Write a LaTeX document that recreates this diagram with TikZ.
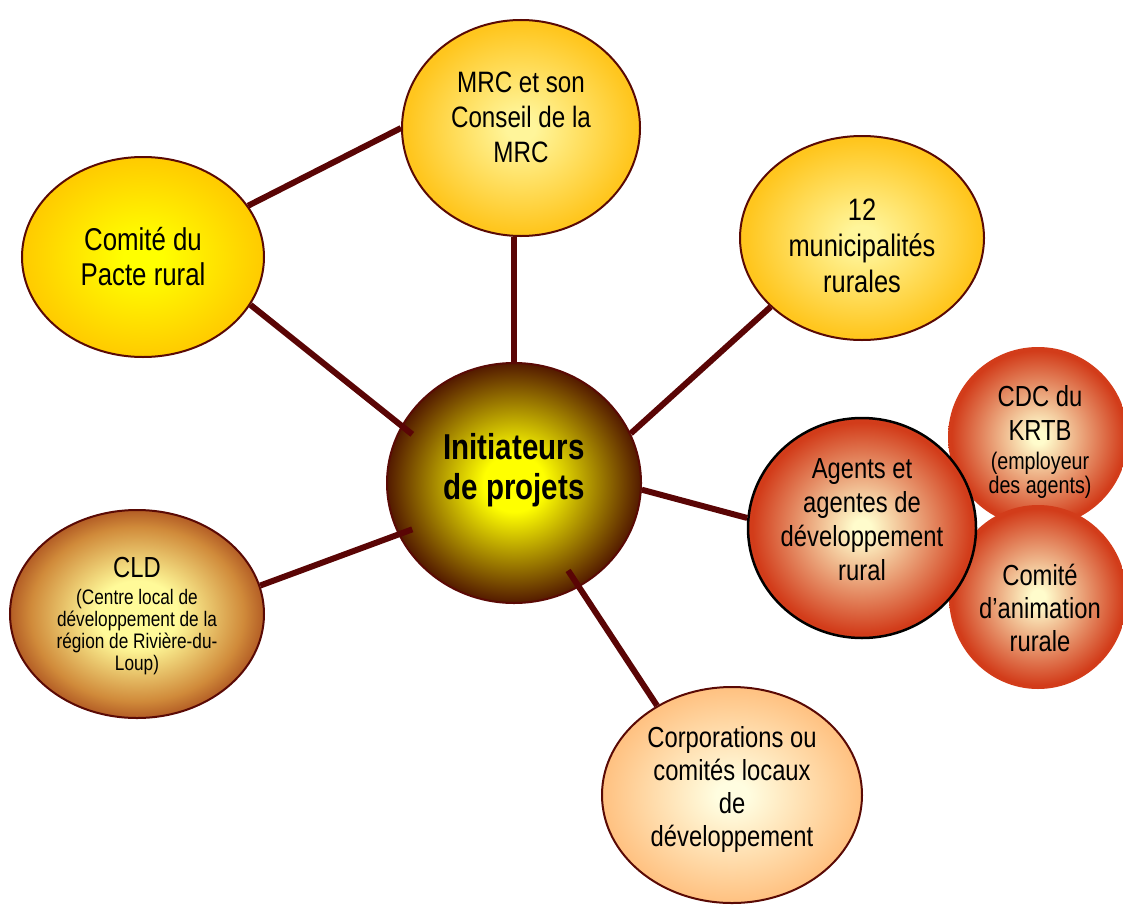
\documentclass[tikz,border=0pt]{standalone}
\usepackage{fontspec}
\setmainfont{Liberation Sans}[FakeStretch=0.82]
\usetikzlibrary{shapes.geometric}
\definecolor{conncol}{HTML}{5A0505}
\definecolor{rimcol}{HTML}{5A0A05}
\definecolor{pacteIn}{HTML}{FFFF00}\definecolor{pacteOut}{HTML}{FFC800}
\definecolor{mrcIn}{HTML}{FFF59A}\definecolor{mrcOut}{HTML}{FFC61E}
\definecolor{initIn}{HTML}{FFFF00}\definecolor{initOut}{HTML}{4A0E00}
\definecolor{redIn}{HTML}{FFFCCC}\definecolor{redOut}{HTML}{D23C1A}
\definecolor{cldIn}{HTML}{FFFA99}\definecolor{cldMid}{HTML}{D08A3A}\definecolor{cldOut}{HTML}{963010}
\definecolor{corpIn}{HTML}{FFFDE0}\definecolor{corpOut}{HTML}{FFBE7C}
\newcommand{\mkshade}[5]{\pgfdeclareradialshading{#1}{\pgfpoint{0bp}{0bp}}{color(0bp)=(#2); color(#4)=(#2); color(#5)=(#3); color(50bp)=(#3)}}
\mkshade{shPacte}{pacteIn}{pacteOut}{4bp}{26bp}
\mkshade{shMrc}{mrcIn}{mrcOut}{3bp}{24bp}
\mkshade{shInit}{initIn}{initOut}{6bp}{26bp}
\mkshade{shRed}{redIn}{redOut}{2bp}{24bp}
\pgfdeclareradialshading{shCld}{\pgfpoint{0bp}{0bp}}{color(0bp)=(cldIn); color(8bp)=(cldIn); color(21bp)=(cldMid); color(29bp)=(cldOut); color(50bp)=(cldOut)}
\mkshade{shCorp}{corpIn}{corpOut}{3bp}{26bp}
\begin{document}
\begin{tikzpicture}[x=1pt,y=-1pt,
  blob/.style={ellipse, inner sep=0pt, shade, line width=2pt, draw=rimcol},
  txt/.style={align=center, inner sep=0pt, font=\fontsize{30}{34.5}\selectfont},
  stxt/.style={align=center, inner sep=0pt, font=\fontsize{21}{22}\selectfont},
  conn/.style={draw=conncol, line width=6pt}]
\useasboundingbox (0,0) rectangle (1123,907);
% ellipses
\node[blob, shading=shPacte, minimum width=242pt, minimum height=200pt] (pacte) at (143,257) {};
\node[blob, shading=shMrc, minimum width=238pt, minimum height=216pt] (mrc) at (521,128) {};
\node[blob, shading=shMrc, minimum width=244pt, minimum height=204pt] (munic) at (862,238) {};
\node[blob, shading=shInit, minimum width=254pt, minimum height=240pt] (init) at (514,483) {};
\node[blob, shading=shRed, draw=none, minimum width=180pt, minimum height=180pt] (cdc) at (1038,437) {};
\node[blob, shading=shRed, draw=none, minimum width=178pt, minimum height=184pt] (anim) at (1038,597) {};
\node[blob, shading=shRed, draw=black, line width=2.5pt, minimum width=228pt, minimum height=220pt] (agents) at (862,528) {};
\node[blob, shading=shCld, minimum width=254pt, minimum height=208pt] (cld) at (137,614) {};
\node[blob, shading=shCorp, minimum width=260pt, minimum height=216pt] (corp) at (732,795) {};
% texts
\node[txt, font=\fontsize{31.5}{35}\selectfont] (pactet) at (143,257) {Comité du\\Pacte rural};
\node[txt, font=\fontsize{29.5}{35}\selectfont] (mrct) at (521,117) {MRC et son\\Conseil de la\\MRC};
\node[txt, font=\fontsize{31}{36}\selectfont] (munict) at (862,246) {12\\municipalités\\rurales};
\node[txt, font=\fontsize{36}{40}\selectfont\bfseries] (initt) at (514,470) {Initiateurs\\de projets};
\node[txt, font=\fontsize{29}{34}\selectfont] (agentst) at (862,520) {Agents et\\agentes de\\développement\\rural};
\node[txt, font=\fontsize{29}{34}\selectfont] (cdch) at (1040,413) {CDC du\\KRTB};
\node[stxt, font=\fontsize{24}{24}\selectfont] (cdct) at (1040,475) {(employeur\\des agents)};
\node[txt, font=\fontsize{29}{33}\selectfont] (animt) at (1040,608) {Comité\\d’animation\\rurale};
\node[txt, font=\fontsize{29}{33}\selectfont] (cldh) at (137,568) {CLD};
\node[stxt] (cldt) at (137,632) {(Centre local de\\développement de la\\région de Rivière-du-\\Loup)};
\node[txt, font=\fontsize{29}{33}\selectfont] (corpt) at (732,789) {Corporations ou\\comités locaux\\de\\développement};
% connectors
\draw[conn] (pacte.26) -- (mrc.180);
\draw[conn, shorten >=-14pt] (pacte.-24) -- (init.153);
\draw[conn] (init.north) -- (init.north |- mrc.south);
\draw[conn] (munic.217) -- (init.23);
\draw[conn] (init.-3) -- (agents.175);
\draw[conn, shorten >=-15pt] (cld.13) -- (init.204.5);
\draw[conn, shorten <=-20pt] (init.-58) -- (corp.130);
\end{tikzpicture}
\end{document}
